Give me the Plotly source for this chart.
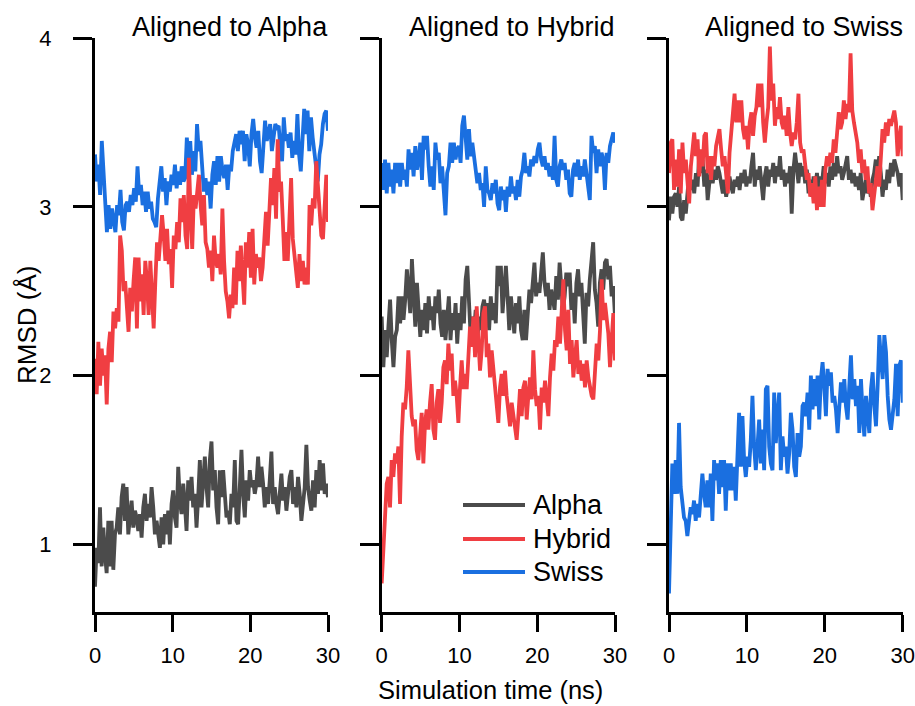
import numpy as np
import plotly.graph_objects as go

# ---------------- data (RMSD in Å) ----------------
panel_titles = ["Aligned to Alpha", "Aligned to Hybrid", "Aligned to Swiss"]
series_names = ["Alpha", "Hybrid", "Swiss"]
x_ticks = [0, 10, 20, 30]
y_ticks = [1, 2, 3, 4]

# Panel 1: aligned to Alpha
alpha_on_alpha = [0.75,0.98,0.89,1.22,0.87,1.10,0.94,0.83,1.14,0.87,1.14,0.85,1.06,1.10,1.22,1.06,1.28,1.36,1.14,1.34,
    1.06,1.18,1.26,1.10,1.20,1.16,1.08,1.18,1.04,1.22,1.30,1.14,1.24,1.16,1.34,1.22,1.06,1.14,1.04,0.98,
    1.16,1.00,1.18,1.06,1.20,1.00,1.24,1.32,1.16,1.10,1.46,1.26,1.18,1.36,1.24,1.08,1.38,1.26,1.40,1.22,
    1.30,1.10,1.28,1.50,1.22,1.42,1.52,1.34,1.22,1.50,1.61,1.32,1.44,1.22,1.12,1.44,1.28,1.44,1.26,1.16,
    1.20,1.12,1.30,1.22,1.50,1.14,1.12,1.34,1.56,1.30,1.16,1.38,1.26,1.44,1.34,1.38,1.30,1.36,1.52,1.34,
    1.46,1.36,1.22,1.34,1.24,1.38,1.55,1.24,1.34,1.24,1.18,1.30,1.42,1.26,1.34,1.20,1.30,1.40,1.44,1.24,
    1.34,1.22,1.40,1.30,1.14,1.26,1.34,1.59,1.34,1.26,1.20,1.38,1.22,1.44,1.30,1.50,1.32,1.48,1.30,1.36,1.28]
hybrid_on_alpha = [2.10,1.89,2.20,1.94,2.16,2.00,2.12,1.83,2.16,2.26,2.08,2.38,2.28,2.40,2.32,2.83,2.74,2.50,2.56,2.44,
    2.26,2.52,2.38,2.56,2.70,2.28,2.70,2.44,2.60,2.36,2.68,2.56,2.36,2.68,2.44,2.28,2.56,2.79,2.68,2.79,
    2.95,2.83,2.68,2.87,2.66,2.75,2.52,2.83,2.75,2.91,2.79,3.05,2.91,3.07,2.83,2.75,3.29,2.97,2.75,3.07,
    2.99,3.09,3.19,3.01,2.89,3.07,2.79,2.75,2.64,2.74,2.56,2.83,2.68,2.64,2.72,2.60,2.99,2.68,2.50,2.44,
    2.34,2.48,2.40,2.64,2.42,2.74,2.56,2.77,2.62,2.42,2.79,2.64,2.85,2.58,2.87,2.54,2.72,2.64,2.70,2.56,
    2.64,2.81,2.97,2.77,3.01,3.17,3.01,3.23,2.93,3.40,3.09,3.15,2.93,2.68,2.85,2.68,2.93,3.17,2.81,2.70,
    2.64,2.52,2.72,2.56,2.68,2.54,2.64,2.54,3.01,2.89,3.05,2.99,3.27,3.13,3.03,2.83,2.81,3.01,3.19,2.91]
swiss_on_alpha = [3.31,3.15,3.25,3.07,3.39,3.17,3.07,2.85,3.01,2.87,2.99,2.91,2.85,3.01,2.95,3.10,2.91,2.86,3.01,3.03,
    2.97,3.07,3.01,3.11,3.03,3.24,3.07,3.13,3.01,3.09,2.97,3.09,2.99,3.03,2.93,2.91,2.88,3.05,3.13,3.24,
    3.09,3.17,3.01,3.15,3.09,3.19,3.13,3.25,3.11,3.21,3.13,3.24,3.15,3.17,3.41,3.27,3.39,3.19,3.33,3.21,
    3.49,3.33,3.39,3.21,3.09,3.17,3.07,3.15,2.99,3.19,3.27,3.13,3.30,3.15,3.30,3.21,3.17,3.25,3.10,3.25,
    3.21,3.33,3.37,3.43,3.33,3.45,3.37,3.45,3.27,3.43,3.37,3.24,3.43,3.52,3.41,3.35,3.45,3.27,3.20,3.41,
    3.51,3.39,3.45,3.49,3.33,3.41,3.49,3.47,3.48,3.35,3.27,3.53,3.39,3.43,3.35,3.44,3.29,3.39,3.31,3.55,
    3.31,3.21,3.41,3.58,3.43,3.57,3.33,3.53,3.41,3.33,3.21,3.15,3.31,3.37,3.49,3.55,3.57,3.45]

# Panel 2: aligned to Hybrid
alpha_on_hybrid = [2.35,2.05,2.27,2.11,2.29,2.45,2.21,2.05,2.23,2.27,2.47,2.31,2.47,2.33,2.45,2.63,2.51,2.37,2.69,2.47,
    2.29,2.55,2.37,2.23,2.39,2.27,2.43,2.25,2.47,2.33,2.41,2.27,2.47,2.37,2.51,2.31,2.23,2.39,2.21,2.35,
    2.47,2.21,2.37,2.27,2.43,2.19,2.37,2.27,2.47,2.31,2.57,2.65,2.37,2.23,2.35,2.27,2.39,2.21,2.35,2.27,
    2.41,2.45,2.35,2.43,2.27,2.47,2.33,2.43,2.31,2.65,2.53,2.65,2.37,2.51,2.65,2.47,2.27,2.47,2.37,2.25,
    2.43,2.31,2.47,2.27,2.21,2.39,2.21,2.37,2.51,2.43,2.59,2.67,2.47,2.55,2.49,2.63,2.73,2.55,2.47,2.55,
    2.39,2.51,2.45,2.39,2.59,2.45,2.67,2.51,2.39,2.47,2.61,2.53,2.61,2.39,2.49,2.31,2.55,2.63,2.47,2.55,
    2.31,2.19,2.49,2.41,2.57,2.71,2.79,2.51,2.43,2.29,2.55,2.63,2.51,2.67,2.69,2.57,2.65,2.47,2.53,2.35]
hybrid_on_hybrid = [0.77,0.99,1.18,1.36,1.40,1.22,1.50,1.40,1.54,1.48,1.58,1.24,1.64,1.84,1.80,1.93,2.15,1.88,1.76,1.70,
    1.74,1.56,1.50,1.64,1.78,1.48,1.72,1.80,1.68,1.84,1.95,1.68,1.62,1.84,1.92,1.72,1.84,2.05,2.09,1.95,
    2.19,2.03,2.13,1.88,1.97,1.88,1.72,1.93,2.09,1.92,2.01,1.92,2.07,2.29,2.17,2.35,2.11,2.41,2.21,2.03,
    2.15,2.37,2.41,2.11,2.19,1.99,2.15,2.03,1.92,1.80,1.72,1.93,2.01,1.88,2.03,1.88,1.80,1.70,1.84,1.76,
    1.68,1.62,1.76,1.92,1.76,1.93,1.97,1.74,1.88,1.99,1.86,2.15,1.92,1.82,1.88,1.68,1.93,1.84,1.97,1.88,
    1.76,1.99,2.13,2.03,2.21,2.17,2.35,2.19,2.39,2.57,2.27,2.15,2.39,2.07,2.21,1.99,2.11,2.21,2.01,2.09,
    1.97,2.07,1.93,2.09,1.99,1.92,1.88,1.86,2.03,2.19,2.09,2.27,2.57,2.33,2.43,2.35,2.25,2.05,2.27,2.37,2.09]
swiss_on_hybrid = [3.26,3.10,3.28,3.08,3.26,3.12,3.22,3.08,3.26,3.14,3.26,3.12,3.26,3.16,3.22,3.12,3.34,3.22,3.32,3.18,
    3.36,3.22,3.28,3.38,3.16,3.42,3.34,3.42,3.24,3.12,3.24,3.10,3.38,3.28,3.32,3.14,3.24,3.06,2.95,3.20,
    3.24,3.38,3.26,3.38,3.28,3.34,3.36,3.26,3.48,3.54,3.40,3.28,3.46,3.30,3.38,3.28,3.22,3.14,3.20,3.10,
    3.14,3.00,3.24,3.10,3.08,3.04,3.14,3.08,3.16,3.02,2.98,3.12,3.04,3.10,2.97,3.12,3.06,3.18,3.08,3.12,
    3.04,3.16,3.06,3.18,3.22,3.32,3.20,3.24,3.18,3.28,3.24,3.30,3.26,3.34,3.38,3.28,3.24,3.30,3.22,3.26,
    3.18,3.24,3.16,3.42,3.16,3.12,3.24,3.28,3.22,3.26,3.16,3.22,3.08,3.06,3.22,3.26,3.18,3.28,3.16,3.24,
    3.18,3.28,3.20,3.14,3.04,3.42,3.32,3.36,3.20,3.34,3.24,3.32,3.28,3.10,3.32,3.26,3.36,3.40,3.44,3.38]

# Panel 3: aligned to Swiss
alpha_on_swiss = [2.92,3.06,2.96,3.06,3.08,3.00,3.12,2.94,2.92,3.04,2.96,3.12,3.20,3.10,3.16,3.08,3.20,3.12,3.32,3.20,
    3.28,3.12,3.22,3.04,3.16,3.24,3.14,3.22,3.16,3.24,3.20,3.12,3.08,3.16,3.06,3.12,3.18,3.12,3.08,3.16,
    3.12,3.18,3.10,3.20,3.14,3.22,3.12,3.18,3.14,3.24,3.32,3.12,3.22,3.16,3.24,3.14,3.04,3.18,3.24,3.12,
    3.22,3.18,3.26,3.14,3.24,3.18,3.30,3.16,3.22,3.12,3.20,3.14,3.24,2.96,3.22,3.32,3.24,3.14,3.26,3.18,
    3.24,3.14,3.22,3.08,3.16,3.06,3.18,3.12,3.20,3.10,3.18,3.14,3.24,3.14,3.20,3.12,3.24,3.16,3.26,3.18,
    3.30,3.20,3.24,3.16,3.20,3.26,3.30,3.16,3.22,3.14,3.20,3.12,3.18,3.10,3.20,3.04,3.12,3.16,3.08,3.14,
    3.06,3.16,3.20,3.28,3.16,3.30,3.20,3.06,3.16,3.10,3.22,3.14,3.26,3.18,3.28,3.24,3.20,3.12,3.20,3.04]
hybrid_on_swiss = [3.20,3.38,3.40,3.10,3.28,3.12,3.34,3.08,3.38,3.20,3.28,3.10,3.02,3.24,3.34,3.44,3.30,3.40,3.18,3.34,
    3.24,3.42,3.44,3.20,3.30,3.16,3.30,3.24,3.36,3.42,3.46,3.34,3.24,3.30,3.16,3.08,3.32,3.42,3.56,3.67,
    3.50,3.63,3.50,3.63,3.46,3.40,3.48,3.34,3.50,3.56,3.42,3.54,3.59,3.73,3.59,3.73,3.50,3.38,3.50,3.59,
    3.95,3.63,3.73,3.48,3.59,3.52,3.65,3.50,3.46,3.54,3.42,3.59,3.44,3.36,3.44,3.40,3.50,3.67,3.38,3.32,
    3.34,3.24,3.16,3.20,3.06,3.14,3.02,3.18,2.98,3.12,3.00,3.16,3.00,3.22,3.30,3.24,3.32,3.26,3.40,3.32,
    3.44,3.56,3.46,3.50,3.63,3.52,3.61,3.56,3.91,3.57,3.50,3.44,3.38,3.26,3.34,3.20,3.28,3.16,3.24,3.08,
    3.14,2.98,3.06,3.16,3.24,3.12,3.34,3.46,3.38,3.50,3.42,3.52,3.48,3.54,3.57,3.50,3.30,3.40,3.48,3.30]
swiss_on_swiss = [0.71,1.11,1.48,1.30,1.50,1.30,1.72,1.34,1.26,1.16,1.14,1.05,1.14,1.22,1.18,1.26,1.14,1.24,1.16,1.30,
    1.42,1.30,1.22,1.38,1.22,1.42,1.14,1.50,1.38,1.48,1.30,1.50,1.34,1.50,1.20,1.48,1.32,1.48,1.32,1.46,
    1.26,1.52,1.78,1.46,1.76,1.50,1.40,1.52,1.46,1.62,1.88,1.58,1.44,1.58,1.74,1.48,1.68,1.44,1.92,1.94,
    1.58,1.48,1.44,1.90,1.60,1.76,1.90,1.44,1.64,1.52,1.58,1.42,1.54,1.78,1.68,1.46,1.40,1.66,1.52,1.58,
    1.82,1.84,1.76,1.90,1.68,2.00,1.80,1.98,1.82,2.00,1.74,1.98,2.08,1.94,1.76,2.04,1.94,2.02,1.84,1.88,
    1.80,1.66,1.86,1.96,1.84,1.98,1.82,1.74,1.94,2.12,1.86,1.98,1.82,1.94,1.66,1.98,1.78,1.64,1.88,1.74,
    1.66,1.92,2.02,1.82,1.70,1.94,2.24,2.09,1.98,2.24,2.14,1.88,1.74,1.68,1.78,1.86,2.07,1.76,2.06,2.09,1.84]

panels = [
    {"Alpha": alpha_on_alpha, "Hybrid": hybrid_on_alpha, "Swiss": swiss_on_alpha},
    {"Alpha": alpha_on_hybrid, "Hybrid": hybrid_on_hybrid, "Swiss": swiss_on_hybrid},
    {"Alpha": alpha_on_swiss, "Hybrid": hybrid_on_swiss, "Swiss": swiss_on_swiss},
]
draw_order = ["Alpha", "Swiss", "Hybrid"]  # red drawn on top, as in the reference

# ---------------- styling ----------------
colors = {"Alpha": "#4b4b4b", "Hybrid": "#f03e42", "Swiss": "#1a6fe0"}
FONT = "Arial, 'Liberation Sans', sans-serif"
W, H = 915, 706
x_domains = [[95 / W, 328 / W], [381.7 / W, 615 / W], [669 / W, 902.7 / W]]
y_domain = [1 - 612 / H, 1 - 38 / H]

fig = go.Figure()
for p, series in enumerate(panels):
    sfx = "" if p == 0 else str(p + 1)
    for name in draw_order:
        vals = series[name]
        t = np.linspace(0, 30, len(vals))
        fig.add_trace(go.Scatter(
            x=t, y=vals, mode="lines", name=name, showlegend=False,
            line=dict(color=colors[name], width=3.8),
            xaxis="x" + sfx, yaxis="y" + sfx, hoverinfo="skip"))

axis_common = dict(showline=True, linecolor="black", linewidth=3, showgrid=False,
                   zeroline=False, ticks="outside", tickwidth=3, tickcolor="black",
                   automargin=False,
                   tickfont=dict(family=FONT, size=22, color="black"))

layout = dict(width=W, height=H, margin=dict(l=0, r=0, t=0, b=0, autoexpand=False),
              plot_bgcolor="white", paper_bgcolor="white",
              font=dict(family=FONT, color="black"), showlegend=False)
for p in range(3):
    sfx = "" if p == 0 else str(p + 1)
    layout["xaxis" + sfx] = dict(axis_common, domain=x_domains[p], range=[0, 30],
                                 tickvals=x_ticks, ticklen=17, ticklabelstandoff=5,
                                 anchor="y" + sfx)
    layout["yaxis" + sfx] = dict(axis_common, domain=y_domain, range=[0.6, 4.0],
                                 tickvals=y_ticks, ticklen=19, ticklabelstandoff=17,
                                 showticklabels=(p == 0), anchor="x" + sfx)
fig.update_layout(**layout)

annotations = []
for p, title in enumerate(panel_titles):
    annotations.append(dict(text=title, xref="paper", yref="paper", x=x_domains[p][1] + 2 / W,
                            y=1 - 27 / H, xanchor="right", yanchor="middle", showarrow=False,
                            font=dict(family=FONT, size=27, color="black")))
annotations.append(dict(text="Simulation time (ns)", xref="paper", yref="paper", x=491 / W,
                        y=1 - 690 / H, xanchor="center", yanchor="middle", showarrow=False,
                        font=dict(family=FONT, size=25.5, color="black")))
annotations.append(dict(text="RMSD (Å)", xref="paper", yref="paper", x=27 / W,
                        y=1 - 325 / H, xanchor="center", yanchor="middle", textangle=-90,
                        showarrow=False, font=dict(family=FONT, size=26, color="black")))

# manual legend (long line samples as in the reference)
legend_rows = [505, 539, 572]
shapes = []
for name, row in zip(series_names, legend_rows):
    shapes.append(dict(type="line", xref="paper", yref="paper", x0=463 / W, x1=525 / W,
                       y0=1 - row / H, y1=1 - row / H, line=dict(color=colors[name], width=4)))
    annotations.append(dict(text=name, xref="paper", yref="paper", x=531 / W, y=1 - row / H,
                            xanchor="left", yanchor="middle", showarrow=False,
                            font=dict(family=FONT, size=27, color="black")))
fig.update_layout(annotations=annotations, shapes=shapes)

fig.write_html("out.html", config={"displayModeBar": False},
               post_script="document.body.style.margin='0';document.body.style.padding='0';"
                           "document.documentElement.style.overflow='hidden';")
